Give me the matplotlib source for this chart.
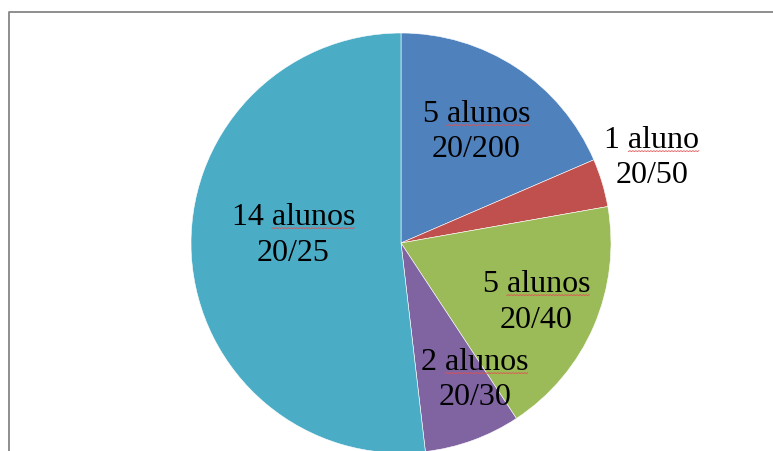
import numpy as np
import matplotlib.pyplot as plt
from matplotlib.lines import Line2D

# dados do grafico
alunos = [5, 1, 5, 2, 14]
linha1 = ["5 alunos", "1 aluno", "5 alunos", "2 alunos", "14 alunos"]
linha2 = ["20/200", "20/50", "20/40", "20/30", "20/25"]
palavra = ["alunos", "aluno", "alunos", "alunos", "alunos"]
cores = ["#4F81BD", "#C0504D", "#9BBB59", "#8064A2", "#4BACC6"]

# posicoes das etiquetas (centro x, linha de base 1, linha de base 2) em pixels
pos_px = [(476.5, 122, 157), (652, 148, 183), (536.5, 292, 328),
          (475, 370, 405), (293.5, 225, 261)]

W, H = 773, 451
cx, cy, R = 401, 243, 210

fig = plt.figure(figsize=(W / 100, H / 100), dpi=100)
ax = fig.add_axes([0, 0, 1, 1])
ax.pie(alunos, colors=cores, startangle=90, counterclock=False,
       wedgeprops=dict(edgecolor="white", linewidth=0.4))
ax.set_xlim(-cx / R, (W - cx) / R)
ax.set_ylim(-(H - cy) / R, cy / R)
ax.set_aspect("auto")
ax.axis("off")

fonte = dict(family="Liberation Serif", size=23, color="black")

txts = []
for (x, y1, y2), l1, l2 in zip(pos_px, linha1, linha2):
    t1 = ax.text((x - cx) / R, (cy - y1) / R, l1, ha="center", va="baseline", **fonte)
    ax.text((x - cx) / R, (cy - y2) / R, l2, ha="center", va="baseline", **fonte)
    txts.append((t1, y1))

# borda cinza (cortada a direita e embaixo)
fig.add_artist(Line2D([8.5 / W, 8.5 / W, 1.0], [0.0, 1 - 11.5 / H, 1 - 11.5 / H],
                      transform=fig.transFigure, color="#868686", lw=1.3))

# sublinhado ondulado vermelho (corretor ortografico)
fig.canvas.draw()
rend = fig.canvas.get_renderer()
for (t1, y1), w in zip(txts, palavra):
    bb = t1.get_window_extent(rend)
    tmp = ax.text(0, 0, w, **fonte)
    ww = tmp.get_window_extent(rend).width
    tmp.remove()
    xs = np.arange(bb.x1 - ww, bb.x1 + 0.1, 1.5)
    ys = (H - y1 - 3.5) + 0.8 * (np.arange(len(xs)) % 2)
    fig.add_artist(Line2D(xs / W, ys / H, transform=fig.transFigure,
                          color="#E05050", lw=0.6))

fig.savefig("out.png", dpi=100)
